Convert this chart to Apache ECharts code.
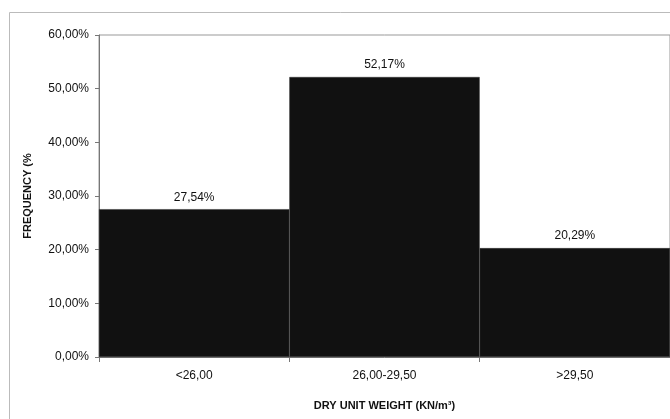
<!DOCTYPE html>
<html><head><meta charset="utf-8">
<script src="https://cdn.jsdelivr.net/npm/echarts@6/dist/echarts.min.js"></script>
<style>html,body{margin:0;padding:0;background:#fff}#c{width:670px;height:419px}</style>
</head><body><div id="c"></div>
<script>
const categories = ['<26,00', '26,00-29,50', '>29,50'];
const frequency = [27.54, 52.17, 20.29];
const yTicks = [0, 10, 20, 30, 40, 50, 60];

const fmt = v => v.toFixed(2).replace('.', ',') + '%';
const chart = echarts.init(document.getElementById('c'));
chart.setOption({
  animation: false,
  graphic: [{
    type: 'rect', shape: {x: 9.5, y: 12.5, width: 700, height: 500},
    style: {fill: 'none', stroke: '#bbb', lineWidth: 1}
  }],
  grid: {left: 99, right: 0, top: 35, bottom: 62, show: true, borderColor: '#999', borderWidth: 1},
  xAxis: {
    type: 'category', data: categories,
    name: 'DRY UNIT WEIGHT (KN/m³)', nameLocation: 'middle', nameGap: 43,
    nameTextStyle: {fontFamily: 'Liberation Sans', fontSize: 11, fontWeight: 'bold', color: '#111'},
    axisLine: {lineStyle: {color: '#777'}},
    axisTick: {show: true, lineStyle: {color: '#777'}},
    axisLabel: {fontFamily: 'Liberation Sans', fontSize: 12, color: '#111', margin: 13}
  },
  yAxis: {
    type: 'value', min: 0, max: 60, interval: 10,
    name: 'FREQUENCY (%', nameLocation: 'middle', nameGap: 66,
    nameTextStyle: {fontFamily: 'Liberation Sans', fontSize: 11, fontWeight: 'bold', color: '#111'},
    axisLine: {show: true, lineStyle: {color: '#777'}},
    axisTick: {show: true, length: 4, lineStyle: {color: '#777'}},
    splitLine: {show: false},
    axisLabel: {fontFamily: 'Liberation Sans', fontSize: 12, color: '#111', margin: 10,
      formatter: v => yTicks.includes(v) ? fmt(v) : ''}
  },
  series: [{
    type: 'bar', data: frequency, barCategoryGap: '0%',
    itemStyle: {color: '#111', borderColor: '#333', borderWidth: 0.5},
    label: {show: true, position: 'top', distance: 6, formatter: p => fmt(p.value),
      fontFamily: 'Liberation Sans', fontSize: 12, color: '#111'}
  }]
});
</script></body></html>
